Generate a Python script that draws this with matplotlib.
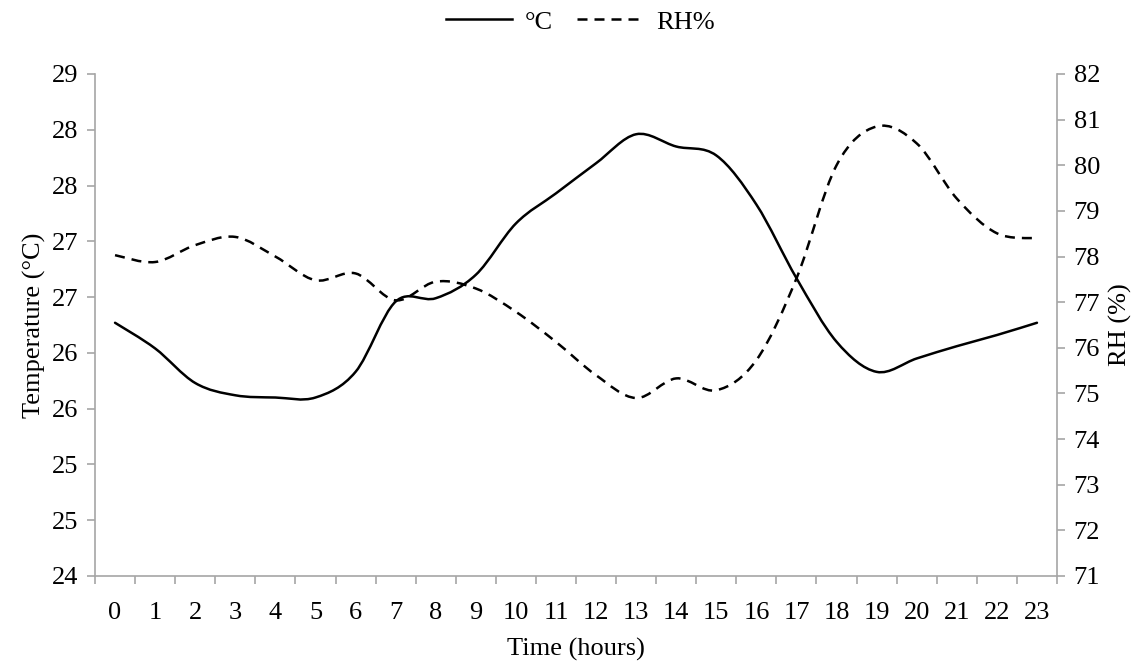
import numpy as np
import matplotlib.pyplot as plt
from matplotlib.path import Path
from matplotlib.patches import PathPatch
from matplotlib.lines import Line2D

plt.rcParams['font.family'] = ['Liberation Serif', 'DejaVu Serif']

# hourly data
hours = np.arange(24)
temp = [26.27, 26.04, 25.73, 25.62, 25.60, 25.60, 25.83, 26.46, 26.49, 26.70,
        27.16, 27.43, 27.70, 27.96, 27.85, 27.77, 27.33, 26.67, 26.10, 25.83,
        25.95, 26.06, 26.16, 26.27]
rh = [78.03, 77.88, 78.25, 78.43, 78.00, 77.48, 77.63, 77.04, 77.45, 77.30,
      76.79, 76.13, 75.40, 74.90, 75.33, 75.07, 75.73, 77.52, 80.00, 80.85,
      80.48, 79.27, 78.51, 78.40]

temp_ticks = np.arange(24, 28.51, 0.5)
rh_ticks = np.arange(71, 83, 1)

gray = '#a6a6a6'
fs = 19


#smoothed line like excel: catmull-rom segments as cubic beziers
def smooth_path(x, y):
    x = np.asarray(x, float)
    y = np.asarray(y, float)
    n = len(x)
    verts = [(x[0], y[0])]
    codes = [Path.MOVETO]
    for i in range(n - 1):
        i0 = max(i - 1, 0)
        i3 = min(i + 2, n - 1)
        c1 = (x[i] + (x[i + 1] - x[i0]) / 6., y[i] + (y[i + 1] - y[i0]) / 6.)
        c2 = (x[i + 1] - (x[i3] - x[i]) / 6., y[i + 1] - (y[i3] - y[i]) / 6.)
        verts += [c1, c2, (x[i + 1], y[i + 1])]
        codes += [Path.CURVE4] * 3
    return Path(verts, codes)


fig = plt.figure(figsize=(11.46, 6.61), dpi=100)
ax = fig.add_axes([95/1146., 1 - 576/661., (1057 - 95)/1146., (576 - 74)/661.])
ax2 = ax.twinx()

ax.add_patch(PathPatch(smooth_path(hours, temp), facecolor='none',
                       edgecolor='black', lw=1.8, capstyle='round'))
ax2.add_patch(PathPatch(smooth_path(hours, rh), facecolor='none',
                        edgecolor='black', lw=1.8, linestyle=(0, (4, 2.8))))

ax.set_xlim(-0.5, 23.5)
ax.set_ylim(24, 28.5)
ax2.set_ylim(71, 82)

ax.set_yticks(temp_ticks)
ax.set_yticklabels(['%d' % np.floor(v + 0.5) for v in temp_ticks])
ax2.set_yticks(rh_ticks)
ax2.set_yticklabels(['%d' % v for v in rh_ticks])

ax.set_xticks(hours)
ax.set_xticklabels([str(h) for h in hours])
ax.set_xticks(np.arange(-0.5, 24, 1), minor=True)
ax.tick_params(axis='x', which='major', length=0, pad=19, labelsize=fs)
ax.tick_params(axis='x', which='minor', length=6, width=1.2, color=gray)
ax.tick_params(axis='y', length=6, width=1.2, color=gray, labelsize=fs, pad=6)
ax2.tick_params(axis='y', length=6, width=1.2, color=gray, labelsize=fs, pad=6)

for a in (ax, ax2):
    a.spines['top'].set_visible(False)
    for s in ('left', 'right', 'bottom'):
        a.spines[s].set_color(gray)
        a.spines[s].set_linewidth(1.2)
ax.spines['right'].set_visible(False)
ax2.spines['left'].set_visible(False)
ax2.spines['bottom'].set_visible(False)

ax.set_xlabel('Time (hours)', fontsize=fs, labelpad=10)
ax.set_ylabel('Temperature (°C)', fontsize=fs, labelpad=4)
ax2.set_ylabel('RH (%)', fontsize=fs, labelpad=6)

handles = [Line2D([], [], color='black', lw=1.8),
           Line2D([], [], color='black', lw=1.8, linestyle=(0, (4, 2.8)))]
fig.legend(handles, ['°C', 'RH%'], loc='center', bbox_to_anchor=(580/1146., 1 - 22/661.),
           ncol=2, frameon=False, fontsize=fs, handlelength=2.5,
           columnspacing=0.9, handletextpad=0.5)

plt.savefig('out.png', dpi=100)
